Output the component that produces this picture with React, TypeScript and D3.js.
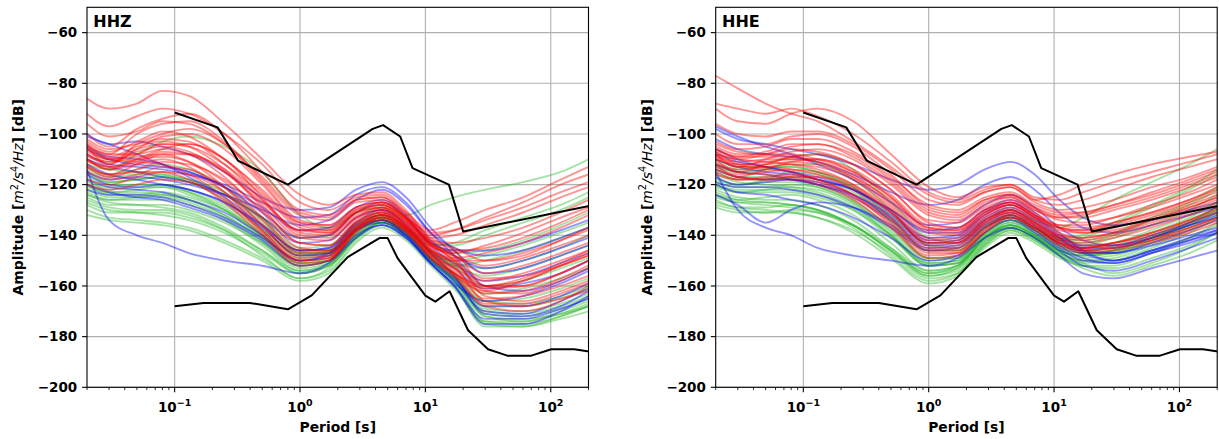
import React from 'react';
import * as d3 from 'd3';

// Periods (s) at which each PSD curve is sampled
const PERIODS = [0.02, 0.03, 0.05, 0.08, 0.13, 0.25, 0.5, 1.0, 1.7, 2.8, 4.5, 7, 11, 17, 30, 60, 120, 200];

// Peterson noise models (period, dB)
const NHNM_P = [0.1, 0.22, 0.32, 0.8, 3.8, 4.6, 6.3, 7.9, 15.4, 20, 354.8];
const NHNM_DB = [-91.5, -97.4, -110.5, -120.0, -98.0, -96.5, -101.0, -113.5, -120.0, -138.5, -126.0];
const NLNM_P = [0.1, 0.17, 0.4, 0.8, 1.24, 2.4, 4.3, 5.0, 6.0, 10, 12, 15.6, 21.9, 31.6, 45, 70, 101, 154, 328];
const NLNM_DB = [-168.0, -166.7, -166.7, -169.2, -163.7, -148.6, -141.1, -141.1, -149.0, -163.8, -166.2, -162.1, -177.5, -185.0, -187.5, -187.5, -185.0, -185.0, -187.5];

const Y_TICKS = [-200, -180, -160, -140, -120, -100, -80, -60];
const X_MAJOR = [0.1, 1, 10, 100];
const X_LABELS = ['\u22121', '0', '1', '2'];

// ---------- HHZ ----------
const HHZ_RED = [
  [-86, -90, -88, -83, -85, -96, -110, -124, -128, -124, -123, -130, -140, -138, -133, -127, -120, -116],
  [-92, -97, -93, -90, -92, -100, -112, -127, -130, -125, -124, -131, -141, -145, -150, -148, -142, -137],
  [-100, -105, -98, -94, -92, -100, -115, -130, -132, -126, -125, -132, -142, -146, -160, -160, -155, -150],
  [-104, -108, -100, -96, -95, -103, -118, -132, -134, -127, -126, -133, -143, -150, -162, -163, -158, -153],
  [-105, -112, -104, -100, -98, -104, -117, -131, -133, -126, -125, -131, -138, -135, -130, -125, -118, -113],
  [-103, -107, -103, -99, -101, -110, -122, -135, -136, -129, -127, -133, -143, -148, -155, -152, -147, -143],
  [-108, -112, -106, -101, -100, -106, -120, -135, -137, -130, -128, -134, -144, -149, -164, -166, -162, -158],
  [-107, -110, -108, -104, -105, -112, -124, -137, -139, -131, -128, -134, -143, -146, -145, -141, -135, -130],
  [-110, -114, -110, -106, -104, -110, -125, -139, -140, -132, -129, -135, -145, -151, -160, -158, -152, -148],
  [-102, -106, -104, -102, -103, -112, -126, -140, -141, -133, -130, -135, -144, -148, -152, -149, -144, -140],
  [-109, -111, -107, -105, -107, -115, -128, -141, -142, -133, -129, -136, -145, -152, -166, -168, -165, -162],
  [-112, -116, -112, -108, -108, -115, -127, -138, -139, -131, -128, -133, -139, -138, -134, -129, -123, -119],
  [-106, -109, -105, -103, -105, -114, -129, -143, -144, -134, -130, -136, -146, -153, -163, -162, -157, -152],
  [-113, -117, -114, -111, -112, -118, -130, -143, -144, -135, -131, -137, -147, -153, -158, -155, -150, -146],
  [-105, -108, -108, -106, -108, -117, -131, -145, -146, -135, -131, -137, -147, -155, -168, -170, -166, -160],
  [-111, -113, -110, -109, -111, -119, -133, -146, -146, -136, -131, -136, -144, -147, -144, -139, -133, -129],
  [-115, -118, -116, -113, -114, -121, -134, -147, -147, -137, -132, -138, -148, -155, -161, -160, -155, -150],
  [-108, -111, -109, -108, -111, -121, -136, -149, -148, -137, -132, -137, -146, -150, -150, -147, -142, -138],
  [-118, -120, -117, -115, -116, -123, -136, -148, -148, -137, -132, -137, -147, -154, -165, -164, -160, -156],
  [-110, -114, -112, -110, -113, -123, -138, -150, -149, -138, -133, -138, -149, -156, -162, -158, -152, -147],
  [-104, -110, -111, -112, -116, -125, -139, -151, -150, -138, -133, -138, -146, -149, -147, -143, -137, -132],
  [-113, -116, -115, -115, -118, -127, -140, -152, -150, -139, -134, -139, -149, -155, -160, -157, -151, -146],
  [-120, -122, -120, -118, -119, -126, -138, -150, -149, -138, -133, -138, -148, -156, -167, -167, -163, -159],
  [-96, -101, -99, -95, -96, -104, -119, -134, -136, -129, -127, -133, -142, -143, -141, -137, -131, -126],
  [-106, -110, -106, -104, -104, -110, -123, -136, -138, -131, -129, -134, -141, -140, -136, -131, -125, -121],
  [-110, -113, -111, -107, -108, -114, -126, -138, -138, -130, -127, -133, -143, -150, -157, -156, -152, -148],
];
const HHZ_BLUE = [
  [-100, -104, -103, -105, -108, -115, -125, -130, -129, -122, -119, -125, -137, -146, -155, -153, -148, -144],
  [-108, -112, -113, -114, -116, -120, -127, -133, -132, -124, -121, -127, -139, -148, -160, -162, -158, -153],
  [-115, -118, -117, -118, -120, -124, -130, -136, -134, -126, -122, -128, -139, -145, -148, -146, -141, -137],
  [-114, -134, -140, -143, -147, -150, -152, -155, -151, -141, -136, -141, -151, -160, -175, -175, -170, -164],
  [-112, -116, -118, -120, -122, -127, -136, -146, -145, -136, -132, -137, -147, -156, -171, -172, -168, -162],
  [-118, -121, -122, -123, -126, -131, -140, -150, -148, -138, -134, -139, -149, -157, -168, -168, -164, -159],
  [-105, -109, -110, -112, -117, -125, -136, -146, -145, -135, -130, -136, -146, -153, -161, -159, -155, -150],
  [-122, -124, -124, -125, -128, -133, -141, -150, -147, -137, -134, -140, -151, -160, -173, -173, -169, -165],
  [-110, -113, -115, -117, -119, -124, -133, -143, -142, -133, -130, -135, -143, -146, -146, -143, -138, -134],
  [-101, -104, -108, -112, -115, -121, -131, -141, -140, -131, -127, -133, -144, -151, -158, -156, -151, -147],
  [-116, -120, -121, -120, -122, -127, -137, -148, -147, -138, -135, -140, -150, -158, -170, -171, -166, -161],
  [-120, -123, -125, -126, -129, -134, -142, -152, -150, -140, -136, -141, -151, -159, -166, -164, -159, -154],
  [-106, -110, -112, -113, -115, -121, -129, -138, -137, -129, -126, -132, -142, -148, -153, -150, -145, -141],
];
const HHZ_GREEN = [
  [-115, -119, -118, -117, -119, -124, -133, -141, -140, -131, -128, -132, -128, -125, -122, -119, -115, -110],
  [-112, -114, -108, -103, -101, -105, -115, -132, -137, -131, -129, -134, -143, -147, -146, -142, -136, -131],
  [-120, -124, -124, -123, -125, -130, -139, -148, -146, -136, -132, -137, -147, -156, -172, -174, -170, -166],
  [-125, -128, -128, -128, -130, -135, -143, -152, -150, -139, -134, -139, -149, -158, -174, -175, -172, -168],
  [-118, -122, -121, -121, -124, -130, -140, -150, -148, -138, -134, -139, -149, -156, -169, -170, -167, -163],
  [-127, -130, -131, -132, -134, -139, -147, -155, -152, -141, -135, -140, -150, -159, -175, -176, -173, -170],
  [-122, -125, -125, -125, -127, -133, -143, -153, -151, -140, -135, -140, -150, -157, -170, -171, -168, -164],
  [-110, -114, -115, -116, -119, -126, -137, -148, -147, -137, -133, -138, -147, -152, -156, -153, -148, -144],
  [-130, -133, -134, -135, -137, -142, -149, -157, -154, -142, -136, -141, -151, -160, -176, -176, -172, -168],
  [-119, -121, -120, -120, -122, -128, -138, -147, -146, -136, -132, -137, -146, -151, -153, -150, -145, -140],
  [-124, -127, -128, -129, -131, -137, -146, -155, -152, -141, -135, -140, -150, -158, -172, -173, -171, -168],
  [-116, -119, -118, -117, -118, -123, -134, -146, -146, -137, -133, -137, -143, -144, -140, -135, -130, -125],
  [-128, -131, -131, -131, -133, -138, -146, -154, -151, -140, -134, -139, -149, -157, -168, -168, -165, -161],
  [-121, -123, -122, -121, -123, -129, -140, -151, -150, -139, -134, -139, -149, -155, -163, -161, -157, -153],
  [-126, -129, -130, -130, -132, -138, -148, -157, -153, -141, -135, -140, -150, -158, -171, -172, -169, -165],
  [-113, -116, -114, -112, -114, -121, -133, -145, -144, -135, -131, -136, -146, -152, -160, -158, -153, -149],
  [-123, -126, -125, -124, -126, -132, -142, -152, -150, -139, -134, -139, -148, -152, -150, -146, -141, -137],
  [-132, -134, -135, -136, -138, -143, -150, -158, -155, -143, -137, -142, -152, -161, -174, -174, -171, -167],
  [-117, -120, -120, -120, -123, -130, -141, -151, -149, -138, -133, -138, -148, -155, -166, -167, -164, -160],
  [-120, -123, -123, -124, -126, -132, -141, -149, -147, -137, -133, -138, -147, -150, -148, -144, -139, -135],
  [-124, -126, -126, -126, -128, -134, -144, -154, -152, -141, -135, -140, -150, -157, -166, -165, -161, -157],
  [-114, -117, -116, -116, -118, -124, -135, -147, -147, -138, -134, -138, -144, -143, -138, -133, -128, -123],
];

// ---------- HHE ----------
const HHE_RED = [
  [-77, -82, -88, -92, -95, -103, -113, -124, -127, -123, -121, -126, -124, -120, -116, -112, -109, -107],
  [-88, -90, -92, -90, -93, -100, -111, -123, -126, -122, -120, -125, -126, -123, -119, -115, -111, -108],
  [-90, -95, -96, -92, -90, -95, -108, -121, -125, -121, -120, -126, -128, -126, -122, -117, -113, -110],
  [-96, -100, -101, -99, -99, -104, -114, -126, -128, -123, -121, -127, -130, -129, -126, -121, -117, -113],
  [-103, -106, -105, -102, -102, -107, -117, -128, -130, -125, -123, -128, -131, -131, -128, -124, -119, -115],
  [-107, -110, -108, -105, -104, -108, -118, -130, -132, -126, -124, -129, -133, -133, -130, -126, -121, -117],
  [-108, -113, -110, -107, -106, -110, -120, -132, -134, -128, -125, -130, -134, -135, -133, -129, -124, -120],
  [-105, -108, -108, -106, -107, -112, -122, -134, -135, -129, -126, -131, -136, -137, -135, -131, -126, -121],
  [-110, -115, -112, -109, -108, -112, -122, -135, -137, -130, -127, -132, -137, -138, -136, -132, -127, -123],
  [-104, -107, -108, -108, -110, -115, -125, -137, -138, -131, -128, -133, -138, -139, -137, -133, -128, -124],
  [-109, -111, -110, -110, -111, -116, -127, -139, -140, -132, -128, -133, -139, -141, -139, -135, -130, -126],
  [-112, -117, -114, -111, -110, -114, -124, -136, -137, -130, -127, -132, -136, -136, -133, -128, -123, -118],
  [-106, -109, -109, -109, -111, -117, -128, -141, -141, -133, -129, -134, -140, -142, -140, -136, -131, -127],
  [-111, -114, -113, -112, -113, -118, -129, -142, -142, -134, -130, -135, -141, -143, -141, -137, -132, -128],
  [-108, -110, -111, -112, -114, -120, -131, -143, -143, -135, -130, -135, -141, -144, -143, -139, -134, -130],
  [-113, -116, -115, -114, -115, -120, -130, -144, -144, -135, -131, -136, -142, -145, -143, -140, -135, -131],
  [-109, -113, -113, -114, -116, -122, -133, -145, -145, -136, -131, -136, -142, -145, -144, -141, -137, -133],
  [-115, -118, -117, -116, -118, -124, -134, -146, -146, -137, -132, -137, -143, -146, -145, -142, -137, -133],
  [-107, -112, -114, -115, -118, -124, -136, -148, -147, -138, -133, -137, -143, -146, -145, -142, -138, -134],
  [-114, -117, -118, -118, -120, -126, -137, -149, -148, -139, -133, -138, -144, -147, -146, -143, -139, -135],
  [-110, -112, -112, -111, -112, -117, -126, -138, -139, -132, -128, -133, -137, -138, -135, -131, -126, -122],
  [-106, -109, -107, -104, -104, -109, -119, -131, -133, -127, -125, -130, -133, -132, -129, -125, -120, -116],
  [-112, -115, -116, -117, -119, -125, -135, -147, -147, -138, -132, -137, -143, -145, -143, -139, -134, -129],
  [-100, -104, -104, -101, -100, -105, -116, -129, -131, -126, -124, -129, -132, -131, -128, -123, -118, -114],
  [-116, -118, -118, -117, -117, -121, -131, -143, -143, -134, -130, -135, -140, -141, -139, -134, -129, -125],
  [-108, -112, -111, -110, -110, -115, -125, -137, -138, -131, -127, -132, -137, -139, -138, -134, -129, -125],
];
const HHE_BLUE = [
  [-98, -102, -104, -106, -108, -112, -118, -122, -120, -114, -111, -116, -126, -133, -136, -134, -130, -127],
  [-102, -106, -108, -109, -111, -116, -123, -128, -126, -120, -117, -122, -131, -137, -139, -136, -132, -129],
  [-115, -130, -137, -140, -145, -148, -150, -152, -149, -141, -137, -141, -148, -155, -157, -153, -149, -146],
  [-110, -113, -115, -116, -118, -122, -130, -138, -137, -130, -126, -131, -139, -146, -150, -146, -142, -139],
  [-120, -123, -124, -126, -128, -133, -141, -150, -148, -139, -134, -139, -146, -152, -154, -150, -145, -141],
  [-106, -110, -113, -115, -118, -122, -131, -141, -140, -132, -128, -133, -141, -147, -150, -146, -141, -138],
  [-117, -120, -119, -118, -120, -125, -134, -144, -143, -135, -131, -136, -144, -149, -151, -147, -143, -139],
  [-124, -128, -135, -130, -127, -129, -136, -145, -144, -136, -132, -137, -143, -147, -147, -143, -138, -134],
  [-112, -115, -116, -118, -120, -124, -132, -142, -141, -133, -129, -134, -141, -145, -145, -141, -136, -133],
  [-97, -101, -105, -108, -112, -118, -127, -136, -135, -128, -124, -129, -137, -142, -144, -141, -136, -132],
  [-119, -121, -121, -122, -124, -129, -137, -146, -145, -137, -133, -138, -145, -150, -151, -147, -142, -138],
  [-108, -111, -113, -115, -117, -122, -130, -139, -139, -131, -127, -132, -140, -144, -144, -140, -135, -131],
  [-114, -117, -118, -118, -119, -124, -133, -143, -142, -134, -130, -135, -142, -146, -147, -144, -140, -137],
];
const HHE_GREEN = [
  [-112, -115, -114, -113, -115, -121, -132, -143, -142, -134, -130, -134, -137, -133, -126, -119, -112, -106],
  [-115, -118, -118, -117, -118, -123, -134, -146, -146, -137, -132, -137, -142, -141, -136, -129, -122, -116],
  [-120, -123, -123, -123, -125, -130, -140, -151, -150, -140, -135, -139, -144, -146, -144, -139, -133, -127],
  [-125, -127, -127, -128, -130, -136, -146, -156, -154, -143, -137, -141, -147, -150, -149, -144, -138, -132],
  [-118, -120, -118, -115, -116, -122, -135, -149, -149, -139, -134, -138, -144, -146, -145, -140, -134, -129],
  [-128, -130, -131, -131, -133, -139, -149, -159, -156, -145, -139, -143, -149, -152, -152, -147, -141, -135],
  [-122, -125, -126, -126, -128, -134, -145, -155, -152, -141, -136, -140, -146, -149, -148, -143, -137, -131],
  [-112, -114, -112, -109, -108, -114, -127, -141, -143, -136, -132, -136, -141, -142, -139, -133, -127, -121],
  [-116, -119, -120, -121, -123, -129, -140, -152, -151, -141, -136, -140, -146, -148, -147, -142, -136, -130],
  [-124, -126, -125, -124, -126, -132, -143, -154, -152, -141, -136, -140, -147, -151, -155, -151, -145, -139],
  [-119, -121, -121, -120, -121, -127, -138, -150, -149, -139, -134, -138, -143, -144, -141, -136, -130, -124],
  [-127, -129, -130, -131, -133, -138, -147, -157, -155, -144, -138, -142, -148, -152, -153, -149, -144, -139],
  [-114, -117, -117, -118, -120, -126, -137, -149, -148, -139, -134, -138, -143, -145, -143, -138, -132, -127],
  [-121, -123, -122, -121, -122, -128, -140, -152, -151, -141, -136, -140, -145, -147, -146, -141, -135, -130],
  [-126, -129, -129, -128, -130, -136, -146, -155, -153, -143, -137, -141, -147, -150, -150, -146, -141, -136],
  [-110, -113, -113, -113, -115, -121, -133, -146, -146, -137, -133, -137, -142, -143, -140, -134, -128, -122],
  [-123, -126, -127, -128, -130, -136, -146, -156, -153, -142, -137, -141, -148, -153, -156, -152, -147, -142],
  [-117, -120, -119, -119, -121, -127, -139, -151, -150, -140, -135, -139, -145, -147, -146, -141, -135, -129],
  [-129, -131, -131, -130, -131, -137, -148, -158, -155, -144, -138, -142, -148, -151, -150, -145, -139, -133],
  [-113, -115, -114, -112, -112, -118, -130, -144, -145, -137, -133, -137, -141, -140, -135, -128, -121, -114],
  [-120, -122, -122, -122, -124, -130, -141, -152, -151, -141, -136, -140, -146, -148, -147, -142, -136, -131],
  [-124, -127, -128, -129, -131, -136, -145, -154, -152, -142, -137, -141, -146, -148, -146, -141, -135, -129],
];

const FONT = '"DejaVu Sans", sans-serif';
const TOP = 7.3;
const HEIGHT = 380;
const WIDTH = 501.5;

type Pt = [number, number];

function Panel({ left, title, red, blue, green, id }: { left: number; title: string; red: number[][]; blue: number[][]; green: number[][]; id: string }) {
  const x = d3.scaleLog().domain([0.02, 200]).range([left, left + WIDTH]);
  const y = d3.scaleLinear().domain([-200, -50]).range([TOP + HEIGHT, TOP]);
  const line = d3.line<Pt>().x(d => x(d[0])).y(d => y(d[1])).curve(d3.curveMonotoneX);
  const straight = d3.line<Pt>().x(d => x(d[0])).y(d => y(d[1]));
  const toPts = (vals: number[]): Pt[] => vals.map((v, i) => [PERIODS[i], v]);
  const minor: number[] = [];
  [0.01, 0.1, 1, 10, 100].forEach(dec => {
    for (let k = 2; k <= 9; k++) {
      const v = dec * k;
      if (v >= 0.02 - 1e-9 && v <= 200 + 1e-9) minor.push(v);
    }
  });
  const bottom = TOP + HEIGHT;
  const cy = TOP + HEIGHT / 2;
  return (
    <g>
      <defs>
        <clipPath id={id}>
          <rect x={left} y={TOP} width={WIDTH} height={HEIGHT} />
        </clipPath>
      </defs>
      {/* grid */}
      {X_MAJOR.map(v => (
        <line key={'gx' + v} x1={x(v)} x2={x(v)} y1={TOP} y2={bottom} stroke="#b0b0b0" strokeWidth={1.1} />
      ))}
      {Y_TICKS.map(v => (
        <line key={'gy' + v} x1={left} x2={left + WIDTH} y1={y(v)} y2={y(v)} stroke="#b0b0b0" strokeWidth={1.1} />
      ))}
      <g clipPath={`url(#${id})`} fill="none" strokeWidth={1.9} strokeLinejoin="round">
        {green.map((c, i) => (
          <path key={'g' + i} d={line(toPts(c)) || ''} stroke="#2cb82c" strokeOpacity={0.42} />
        ))}
        {blue.map((c, i) => (
          <path key={'b' + i} d={line(toPts(c)) || ''} stroke="#0000ff" strokeOpacity={0.42} />
        ))}
        {red.map((c, i) => (
          <path key={'r' + i} d={line(toPts(c)) || ''} stroke="#ff0000" strokeOpacity={0.42} />
        ))}
        <path d={straight(NHNM_P.map((p, i) => [p, NHNM_DB[i]] as Pt)) || ''} stroke="#000" strokeWidth={2} />
        <path d={straight(NLNM_P.map((p, i) => [p, NLNM_DB[i]] as Pt)) || ''} stroke="#000" strokeWidth={2} />
      </g>
      {/* frame */}
      <rect x={left} y={TOP} width={WIDTH} height={HEIGHT} fill="none" stroke="#000" strokeWidth={1.1} />
      {/* y ticks */}
      {Y_TICKS.map(v => (
        <g key={'yt' + v}>
          <line x1={left - 4.9} x2={left} y1={y(v)} y2={y(v)} stroke="#000" strokeWidth={1.1} />
          <text x={left - 9.8} y={y(v)} dy="0.36em" textAnchor="end" fontFamily={FONT} fontWeight="bold" fontSize={13.5}>
            {'\u2212' + Math.abs(v)}
          </text>
        </g>
      ))}
      {/* x ticks */}
      {X_MAJOR.map((v, i) => (
        <g key={'xt' + v}>
          <line x1={x(v)} x2={x(v)} y1={bottom} y2={bottom + 4.9} stroke="#000" strokeWidth={1.1} />
          <text x={x(v)} y={411.5} textAnchor="middle" fontFamily={FONT} fontWeight="bold" fontSize={13.5}>
            <tspan>10</tspan>
            <tspan dy={-6} fontSize={9.5}>{X_LABELS[i]}</tspan>
          </text>
        </g>
      ))}
      {minor.map(v => (
        <line key={'mt' + v} x1={x(v)} x2={x(v)} y1={bottom} y2={bottom + 2.8} stroke="#000" strokeWidth={0.8} />
      ))}
      {/* labels */}
      <text x={left + WIDTH / 2} y={432} textAnchor="middle" fontFamily={FONT} fontWeight="bold" fontSize={13.9}>
        Period [s]
      </text>
      <text transform={`translate(${left - 64},${cy}) rotate(-90)`} textAnchor="middle" fontFamily={FONT} fontWeight="bold" fontSize={13.9}>
        <tspan>Amplitude [</tspan>
        <tspan fontStyle="italic" fontWeight="normal">m</tspan>
        <tspan fontWeight="normal" fontSize={9.7} dy={-5.5}>2</tspan>
        <tspan fontStyle="italic" fontWeight="normal" dy={5.5}>/s</tspan>
        <tspan fontWeight="normal" fontSize={9.7} dy={-5.5}>4</tspan>
        <tspan fontStyle="italic" fontWeight="normal" dy={5.5}>/Hz</tspan>
        <tspan>] [dB]</tspan>
      </text>
      <text x={left + 6.3} y={26.7} fontFamily={FONT} fontWeight="bold" fontSize={16}>
        {title}
      </text>
    </g>
  );
}

export default function App() {
  return (
    <svg width={1219} height={439} style={{ position: 'absolute', left: 0, top: 0, background: '#fff' }}>
      <rect x={0} y={0} width={1219} height={439} fill="#fff" />
      <Panel id="clipA" left={87} title="HHZ" red={HHZ_RED} blue={HHZ_BLUE} green={HHZ_GREEN} />
      <Panel id="clipB" left={715.7} title="HHE" red={HHE_RED} blue={HHE_BLUE} green={HHE_GREEN} />
    </svg>
  );
}
